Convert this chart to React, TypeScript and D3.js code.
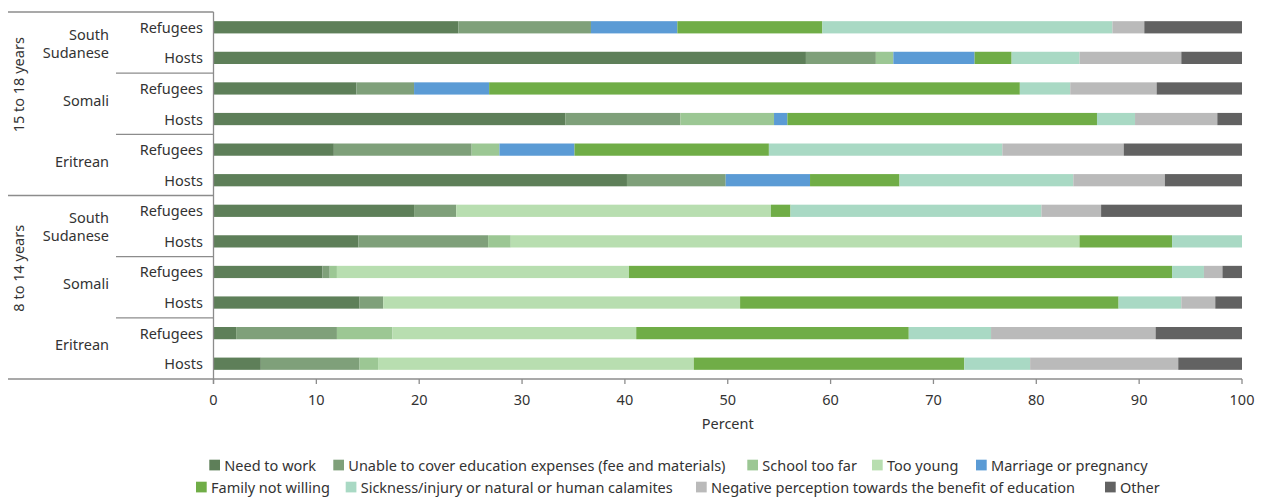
import React from "react";
import * as d3 from "d3";

// ---------- data ----------
const ageGroups = ["15 to 18 years", "8 to 14 years"];
const nationalities = ["South Sudanese", "Somali", "Eritrean"];
const populations = ["Refugees", "Hosts"];

const reasons = [
  "Need to work",
  "Unable to cover education expenses (fee and materials)",
  "School too far",
  "Too young",
  "Marriage or pregnancy",
  "Family not willing",
  "Sickness/injury or natural or human calamites",
  "Negative perception towards the benefit of education",
  "Other",
];
const reasonColors = [
  "#5e7f59",
  "#7fa07a",
  "#9cc794",
  "#b8deb0",
  "#5b9bd5",
  "#70ad47",
  "#a9d9c4",
  "#bababa",
  "#626262",
];

// rows: 15-18 (SS Ref, SS Host, So Ref, So Host, Er Ref, Er Host), then 8-14 same order
const needToWork = [23.8, 57.6, 13.9, 34.2, 11.7, 40.2, 19.5, 14.1, 10.6, 14.2, 2.2, 4.6];
const unableExpenses = [12.9, 6.8, 5.6, 11.2, 13.4, 9.6, 4.1, 12.6, 0.7, 2.3, 9.8, 9.6];
const schoolTooFar = [0, 1.7, 0, 9.1, 2.7, 0, 0, 2.2, 0.7, 0, 5.4, 1.8];
const tooYoung = [0, 0, 0, 0, 0, 0, 30.6, 55.3, 28.4, 34.7, 23.7, 30.7];
const marriage = [8.4, 7.9, 7.3, 1.3, 7.3, 8.2, 0, 0, 0, 0, 0, 0];
const familyNotWilling = [14.1, 3.6, 51.6, 30.1, 18.9, 8.7, 1.9, 9.0, 52.8, 36.8, 26.5, 26.3];
const sickness = [28.2, 6.6, 4.9, 3.7, 22.7, 16.9, 24.4, 6.8, 3.1, 6.1, 8.0, 6.4];
const negativePerception = [3.1, 9.9, 8.4, 8.0, 11.8, 8.9, 5.8, 0, 1.8, 3.3, 16.0, 14.4];
const other = [9.5, 5.9, 8.3, 2.4, 11.5, 7.5, 13.7, 0, 1.9, 2.6, 8.4, 6.2];

const xTicks = [0, 10, 20, 30, 40, 50, 60, 70, 80, 90, 100];
const xAxisTitle = "Percent";

// ---------- layout ----------
const W = 1264;
const H = 497;
const plotLeft = 213.5;
const plotRight = 1242;
const plotTop = 12;
const plotBottom = 379;
const FONT = "'Noto Sans', sans-serif";
const FS = 14.5;
const TEXT = "#333333";
const LINE = "#8c8c8c";

const legendRows = [
  [
    { i: 0, x: 209.3 },
    { i: 1, x: 333.3 },
    { i: 2, x: 747.3 },
    { i: 3, x: 872 },
    { i: 4, x: 976 },
  ],
  [
    { i: 5, x: 196 },
    { i: 6, x: 345.7 },
    { i: 7, x: 696 },
    { i: 8, x: 1105 },
  ],
];
const legendY = [465, 487];

export default function App() {
  const series = [
    needToWork,
    unableExpenses,
    schoolTooFar,
    tooYoung,
    marriage,
    familyNotWilling,
    sickness,
    negativePerception,
    other,
  ];
  const rows: { key: string; age: number; nat: number; pop: number }[] = [];
  ageGroups.forEach((a, ai) =>
    nationalities.forEach((n, ni) =>
      populations.forEach((p, pi) =>
        rows.push({ key: `${ai}-${ni}-${pi}`, age: ai, nat: ni, pop: pi })
      )
    )
  );
  const table = rows.map((r, ri) => {
    const o: any = { key: r.key };
    reasons.forEach((rs, si) => (o[rs] = series[si][ri]));
    return o;
  });
  const stacked = d3.stack().keys(reasons)(table);

  const x = d3.scaleLinear().domain([0, 100]).range([plotLeft, plotRight]);
  const y = d3
    .scaleBand()
    .domain(rows.map((r) => r.key))
    .range([plotTop, plotBottom])
    .paddingInner(0.6)
    .paddingOuter(0.3);
  const step = y.step();
  const barH = y.bandwidth();

  const rowCenter = (k: string) => (y(k) as number) + barH / 2;

  return (
    <svg
      width={W}
      height={H}
      style={{ position: "absolute", left: 0, top: 0, display: "block" }}
      fontFamily={FONT}
      fontSize={FS}
    >
      <rect x={0} y={0} width={W} height={H} fill="#ffffff" />
      {/* bars */}
      {stacked.map((s, si) => (
        <g key={s.key} fill={reasonColors[si]}>
          {s.map((d, ri) =>
            d[1] - d[0] > 0 ? (
              <rect
                key={ri}
                x={x(d[0])}
                y={y(rows[ri].key)}
                width={x(d[1]) - x(d[0])}
                height={barH}
              />
            ) : null
          )}
        </g>
      ))}

      {/* category lines */}
      <g stroke={LINE} strokeWidth={1.3} fill="none">
        <line x1={8} x2={plotLeft} y1={plotTop} y2={plotTop} />
        <line x1={8} x2={plotLeft} y1={plotTop + step * 6} y2={plotTop + step * 6} />
        {[2, 4, 8, 10].map((k) => (
          <line key={k} x1={116} x2={plotLeft} y1={plotTop + step * k} y2={plotTop + step * k} />
        ))}
        <line x1={8} x2={plotRight} y1={plotBottom} y2={plotBottom} />
        <line x1={plotLeft} x2={plotLeft} y1={plotTop} y2={plotBottom + 5} />
        {xTicks.map((t) => (
          <line key={t} x1={x(t)} x2={x(t)} y1={plotBottom} y2={plotBottom + 5} />
        ))}
      </g>

      {/* population labels */}
      {rows.map((r) => (
        <text
          key={r.key}
          x={203}
          y={rowCenter(r.key) - 0.5}
          textAnchor="end"
          dominantBaseline="central"
          fill={TEXT}
        >
          {populations[r.pop]}
        </text>
      ))}

      {/* nationality labels */}
      {ageGroups.map((a, ai) =>
        nationalities.map((n, ni) => {
          const cy = plotTop + step * (ai * 6 + ni * 2 + 1);
          const words = n.split(" ");
          if (words.length > 1) {
            return (
              <g key={`${ai}-${ni}`}>
                {words.map((w, wi) => (
                  <text
                    key={wi}
                    x={109}
                    y={cy + (wi - (words.length - 1) / 2) * 18}
                    textAnchor="end"
                    dominantBaseline="central"
                    fill={TEXT}
                  >
                    {w}
                  </text>
                ))}
              </g>
            );
          }
          return (
            <text
              key={`${ai}-${ni}`}
              x={109}
              y={cy - 4}
              textAnchor="end"
              dominantBaseline="central"
              fill={TEXT}
            >
              {n}
            </text>
          );
        })
      )}

      {/* age labels */}
      {ageGroups.map((a, ai) => {
        const cy = plotTop + step * (ai * 6 + 3) - 19;
        return (
          <text
            key={a}
            transform={`translate(18,${cy}) rotate(-90)`}
            textAnchor="middle"
            dominantBaseline="central"
            fill={TEXT}
          >
            {a}
          </text>
        );
      })}

      {/* x tick labels */}
      {xTicks.map((t) => (
        <text
          key={t}
          x={x(t)}
          y={399}
          textAnchor="middle"
          dominantBaseline="central"
          fill={TEXT}
        >
          {t}
        </text>
      ))}
      <text
        x={(plotLeft + plotRight) / 2}
        y={423}
        textAnchor="middle"
        dominantBaseline="central"
        fill={TEXT}
      >
        {xAxisTitle}
      </text>

      {/* legend */}
      {legendRows.map((row, li) =>
        row.map((it) => (
          <g key={it.i}>
            <rect
              x={it.x}
              y={legendY[li] - 5.3}
              width={10.7}
              height={10.7}
              fill={reasonColors[it.i]}
            />
            <text
              x={it.x + 15}
              y={legendY[li]}
              dominantBaseline="central"
              fill={TEXT}
            >
              {reasons[it.i]}
            </text>
          </g>
        ))
      )}
    </svg>
  );
}
